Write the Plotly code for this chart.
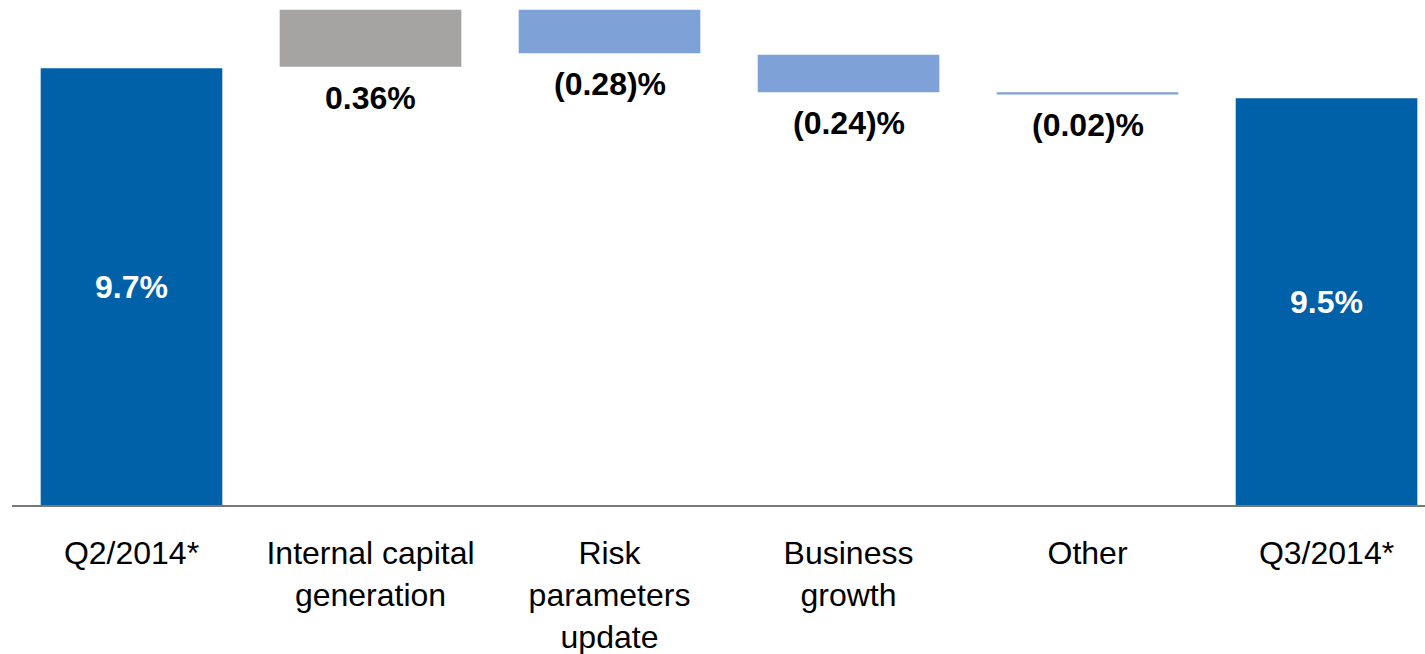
import plotly.graph_objects as go

# ---- data ----
categories = ["Q2/2014*", "Internal capital<br>generation", "Risk<br>parameters<br>update",
              "Business<br>growth", "Other", "Q3/2014*"]
bar_bottom = [0.0, 9.71, 9.80, 9.54, 9.526, 0.0]
bar_top = [9.70, 10.09, 10.09, 9.79, 9.540, 9.50]
value_labels = ["9.7%", "0.36%", "(0.28)%", "(0.24)%", "(0.02)%", "9.5%"]
is_total = [True, False, False, False, False, True]
bar_colors = ["#0060A8", "#A5A4A2", "#7EA1D8", "#7EA1D8", "#7EA1D8", "#0060A8"]

Y_MIN, Y_MAX = 6.79, 10.155
FONT = "Liberation Sans, Arial, sans-serif"

heights = [t - b for t, b in zip(bar_top, bar_bottom)]

fig = go.Figure()
fig.add_trace(go.Bar(
    x=categories, y=heights, base=bar_bottom,
    marker=dict(color=bar_colors, line=dict(width=0)),
    hoverinfo="skip", showlegend=False,
))

annotations = []
for cat, lab, b, t, tot in zip(categories, value_labels, bar_bottom, bar_top, is_total):
    if tot:
        annotations.append(dict(
            x=cat, y=(t + Y_MIN) / 2, text=f"<b>{lab}</b>", showarrow=False,
            font=dict(family=FONT, size=32, color="white"), yanchor="middle"))
    else:
        annotations.append(dict(
            x=cat, y=b, text=f"<b>{lab}</b>", showarrow=False,
            font=dict(family=FONT, size=32, color="black"), yanchor="top", yshift=-11))

fig.update_layout(
    width=1425, height=654,
    margin=dict(l=12, r=0, t=0, b=149),
    paper_bgcolor="white", plot_bgcolor="white",
    bargap=0.24,
    annotations=annotations,
    font=dict(family=FONT, size=32, color="black"),
    xaxis=dict(
        type="category", range=[-0.5, 5.412],
        showline=True, linecolor="#777777", linewidth=2,
        showgrid=False, zeroline=False, ticks="",
        ticklabelstandoff=19,
        tickfont=dict(family=FONT, size=32, color="black"),
        fixedrange=True,
    ),
    yaxis=dict(
        range=[Y_MIN, Y_MAX], visible=False, showgrid=False, zeroline=False,
        fixedrange=True,
    ),
)

fig.write_html("out.html", config={"displayModeBar": False})
